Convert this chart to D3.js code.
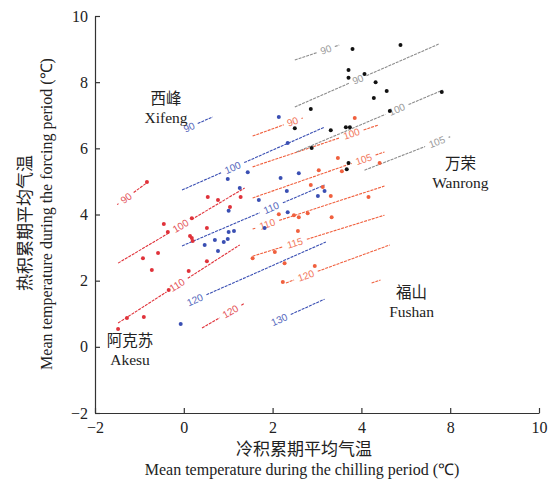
<!DOCTYPE html>
<html><head><meta charset="utf-8">
<script src="https://cdn.jsdelivr.net/npm/d3@7/dist/d3.min.js"></script>
<style>body{margin:0;background:#fff}svg{display:block}</style>
</head><body>
<svg id="c" width="554" height="481"></svg>
<script>
// ---------- data ----------
const xTickValues = [-2, 0, 2, 4, 6, 8];
const xTickLabels = ["−2", "0", "2", "4", "8", "10"];
const yTickValues = [-2, 0, 2, 4, 6, 8, 10];
const yTickLabels = ["−2", "0", "2", "4", "6", "8", "10"];

const siteNames = ["Xifeng", "Akesu", "Fushan", "Wanrong"];
const siteNamesZh = ["西峰", "阿克苏", "福山", "万荣"];
const siteLabelX = [-0.40, -1.21, 5.13, 6.23];
const siteLabelY = [7.22, -0.10, 1.35, 5.25];

const xifengPoints = [[2.14,6.95],[2.34,6.16],[1.44,5.28],[2.18,5.10],[2.59,5.25],[1.69,4.44],[2.32,4.71],
  [3.02,4.56],[3.17,4.71],[2.34,4.07],[1.82,3.59],[0.99,5.07],[1.26,4.80],[1.01,4.11],[1.01,3.47],[1.13,3.50],
  [0.47,3.08],[0.70,3.23],[0.90,3.17],[0.99,3.26],[0.77,2.90],[-0.07,0.69]];
const akesuPoints = [[-0.83,4.98],[0.54,4.53],[0.77,4.44],[1.28,4.53],[1.04,4.23],[-0.45,3.71],[-0.36,3.47],
  [0.18,3.89],[0.52,3.59],[0.14,3.35],[0.18,3.29],[0.20,3.20],[-0.92,2.68],[-0.58,2.84],[-0.72,2.32],
  [0.11,2.29],[0.52,2.59],[-0.34,1.72],[-1.28,0.87],[-0.90,0.90],[-1.48,0.54]];
const fushanPoints = [[3.85,6.92],[3.47,5.71],[3.04,5.34],[3.56,5.31],[4.41,5.56],[2.86,4.89],[3.13,4.83],
  [3.31,4.56],[4.16,4.53],[2.79,4.04],[2.14,4.01],[2.48,3.98],[2.59,3.92],[3.33,3.92],[2.57,3.50],
  [2.05,2.87],[1.55,2.68],[2.27,2.53],[2.95,2.44],[2.23,1.96]];
const wanrongPoints = [[4.88,9.12],[3.80,9.00],[3.71,8.37],[3.71,8.13],[4.07,8.25],[4.32,8.00],[4.57,7.73],
  [4.28,7.52],[5.81,7.70],[4.64,7.13],[2.86,7.19],[2.50,6.61],[3.31,6.55],[3.65,6.64],[3.74,6.64],
  [2.88,6.01],[3.71,5.56],[3.67,5.37]];

// contour segments: [label, x1, y1, x2, y2, label x]
const xifengLines = [["90",-0.02,6.55,0.65,6.95,0.12],["100",-0.04,4.74,3.17,6.64,1.10],
  ["110",-0.04,3.05,3.17,4.89,1.97],["120",0.0,1.27,3.20,3.17,0.25],["130",1.95,0.70,3.17,1.44,2.15]];
const akesuLines = [["90",-1.50,4.30,-0.81,4.98,-1.30],["100",-1.48,2.53,1.37,4.80,-0.07],
  ["110",-1.48,0.72,1.26,3.08,-0.15],["120",0.41,0.57,1.35,1.30,1.05]];
const fushanLines = [["90",1.55,6.37,2.68,6.92,2.45],["100",1.55,5.44,4.37,6.70,3.78],
  ["105",1.55,4.50,4.52,5.89,4.05],["110",1.55,3.56,4.52,4.86,1.88],["115",1.55,2.74,4.52,3.98,2.50],
  ["120",2.30,1.93,4.64,3.08,2.75],["",4.23,1.93,4.43,2.02,4.0]];
const wanrongLines = [["90",2.50,8.67,3.50,9.12,3.20],["90",2.50,7.25,5.74,9.15,3.92],
  ["100",2.54,5.89,5.83,7.76,4.80],["105",4.07,5.34,6.0,6.35,5.70]];

const sitePoints = [xifengPoints, akesuPoints, fushanPoints, wanrongPoints];
const siteLines = [xifengLines, akesuLines, fushanLines, wanrongLines];
const pointColors = ["#3a4fb3", "#e0323a", "#f0603e", "#111111"];
const lineColors = ["#3a4fb3", "#e0323a", "#f0603e", "#8c8c8c"];

// ---------- chart ----------
const svg = d3.select("#c");
svg.append("rect").attr("width",554).attr("height",481).attr("fill","#fff");
const x = d3.scaleLinear().domain([-2, 8]).range([95, 539]);
const y = d3.scaleLinear().domain([-2, 10]).range([413, 16]);

const serif = "'Liberation Serif','Times New Roman',serif";
const zh = "'Noto Sans CJK SC','Noto Serif CJK SC',sans-serif";

const xAxis = svg.append("g").attr("transform","translate(0,413)")
  .call(d3.axisBottom(x).tickValues(xTickValues).tickSizeInner(-5).tickSizeOuter(0)
    .tickPadding(9).tickFormat((d,i)=>xTickLabels[i]));
const yAxis = svg.append("g").attr("transform","translate(95,0)")
  .call(d3.axisLeft(y).tickValues(yTickValues).tickSizeInner(-5).tickSizeOuter(0)
    .tickPadding(7).tickFormat((d,i)=>yTickLabels[i]));
[xAxis, yAxis].forEach(a=>{
  a.selectAll("path").attr("stroke","#333").attr("stroke-width",1.2);
  a.selectAll("line").attr("stroke","#333").attr("stroke-width",1.2);
  a.selectAll("text").attr("font-family",serif).attr("font-size",16).attr("fill","#222");
});
yAxis.selectAll("text").attr("dy","0.32em");

// contour lines
siteLines.forEach((lines, si)=>{
  const g = svg.append("g");
  lines.forEach(([lab,x1,y1,x2,y2,lx])=>{
    const p1=[x(x1),y(y1)], p2=[x(x2),y(y2)];
    const dx=p2[0]-p1[0], dy=p2[1]-p1[1], len=Math.hypot(dx,dy);
    const ux=dx/len, uy=dy/len;
    const segs=[];
    let c=null;
    if (lab) {
      const t=(x(lx)-p1[0])/dx;
      c=[p1[0]+dx*t, p1[1]+dy*t];
      const gap = lab.length*3.2+3;
      const d1 = t*len - gap, d2 = t*len + gap;
      if (d1>0) segs.push([p1,[p1[0]+ux*d1,p1[1]+uy*d1]]);
      if (d2<len) segs.push([[p1[0]+ux*d2,p1[1]+uy*d2],p2]);
    } else segs.push([p1,p2]);
    segs.forEach(s=>g.append("line").attr("x1",s[0][0]).attr("y1",s[0][1])
      .attr("x2",s[1][0]).attr("y2",s[1][1]).attr("stroke",lineColors[si])
      .attr("stroke-width",1.1).attr("stroke-dasharray","3,1"));
    if (lab) {
      const ang=Math.atan2(dy,dx)*180/Math.PI;
      g.append("text").attr("transform",`translate(${c[0]},${c[1]}) rotate(${ang})`)
        .attr("text-anchor","middle").attr("dy","0.35em")
        .attr("font-family","'Liberation Sans',Arial,sans-serif").attr("font-size",10)
        .attr("fill",lineColors[si]).attr("opacity",0.85).text(lab);
    }
  });
});

// points
sitePoints.forEach((pts, si)=>{
  svg.append("g").selectAll("circle").data(pts).join("circle")
    .attr("cx",d=>x(d[0])).attr("cy",d=>y(d[1])).attr("r",2)
    .attr("fill",pointColors[si]);
});

// site labels
siteNames.forEach((n,i)=>{
  const cx=x(siteLabelX[i]), cy=y(siteLabelY[i]);
  svg.append("text").attr("x",cx).attr("y",cy-4).attr("text-anchor","middle")
    .attr("font-family",zh).attr("font-size",15.5).attr("fill","#222").text(siteNamesZh[i]);
  svg.append("text").attr("x",cx).attr("y",cy+15).attr("text-anchor","middle")
    .attr("font-family",serif).attr("font-size",15.5).attr("fill","#222").text(n);
});

// axis titles
svg.append("text").attr("x",304).attr("y",455).attr("text-anchor","middle")
  .attr("font-family",zh).attr("font-size",17).attr("fill","#222").text("冷积累期平均气温");
svg.append("text").attr("x",302).attr("y",475).attr("text-anchor","middle")
  .attr("font-family",serif).attr("font-size",16).attr("fill","#222")
  .text("Mean temperature during the chilling period (℃)");
svg.append("text").attr("transform","translate(31,223) rotate(-90)").attr("text-anchor","middle")
  .attr("font-family",zh).attr("font-size",17).attr("fill","#222").text("热积累期平均气温");
svg.append("text").attr("transform","translate(52,214) rotate(-90)").attr("text-anchor","middle")
  .attr("font-family",serif).attr("font-size",16).attr("fill","#222")
  .text("Mean temperature during the forcing period (℃)");
</script>
</body></html>
